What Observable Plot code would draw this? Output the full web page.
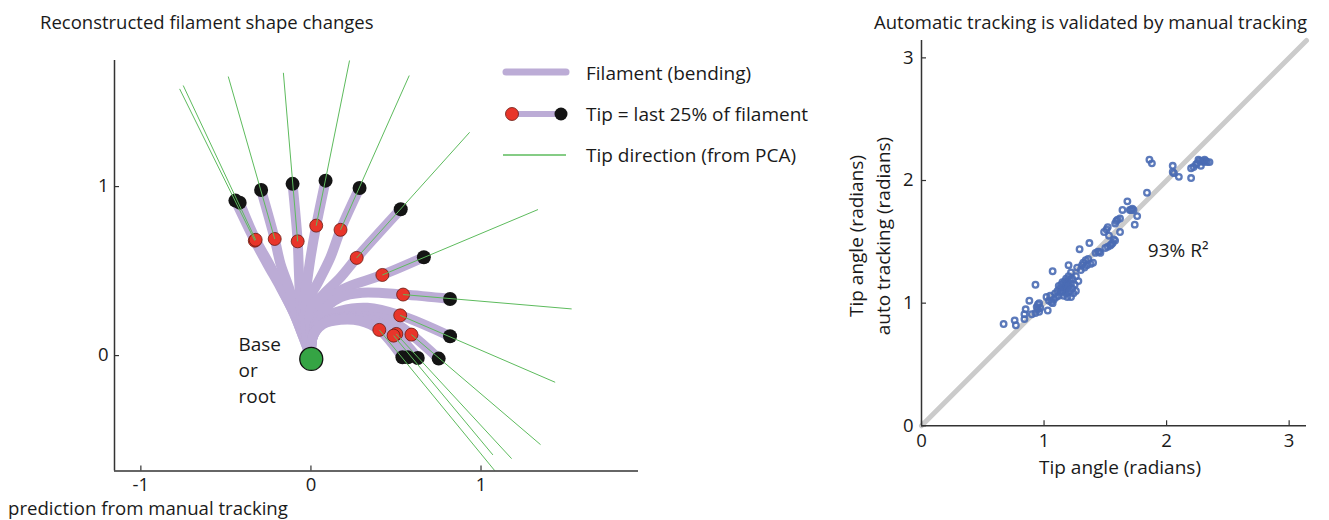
<!DOCTYPE html>
<html><head><meta charset="utf-8">
<script src="https://cdn.jsdelivr.net/npm/d3@7"></script>
<script src="https://cdn.jsdelivr.net/npm/@observablehq/plot@0.6"></script>
<style>
body{margin:0;background:#fff;font-family:"Open Sans",sans-serif;color:#1a1a1a}
#wrap{position:relative;width:1329px;height:520px;overflow:hidden;background:#fff}
.abs{position:absolute;white-space:nowrap;line-height:1.2;transform:translateY(-50%)}
#left,#right{position:absolute;top:0}
#left{left:0px}
#right{left:840px}
#legend{position:absolute;left:0;top:0}
</style></head><body>
<div id="wrap">
  <div id="left"></div>
  <div id="right"></div>
  <svg id="legend" width="1329" height="520" style="pointer-events:none"></svg>
  <div class="abs" style="left:40px;top:22px;font-size:18.5px">Reconstructed filament shape changes</div>
  <div class="abs" style="left:874px;top:22px;font-size:18.5px">Automatic tracking is validated by manual tracking</div>
  <div class="abs" style="left:8px;top:508px;font-size:18.6px;line-height:1">prediction from manual tracking</div>
  <div class="abs" style="left:586px;top:73px;font-size:19px">Filament (bending)</div>
  <div class="abs" style="left:586px;top:114px;font-size:19px">Tip = last 25% of filament</div>
  <div class="abs" style="left:586px;top:155px;font-size:19px">Tip direction (from PCA)</div>
  <div class="abs" style="left:1120px;top:467px;font-size:19px;transform:translate(-50%,-50%)">Tip angle (radians)</div>
  <div class="abs" style="left:856px;top:236px;font-size:19px;transform:translate(-50%,-50%) rotate(-90deg)">Tip angle (radians)</div>
  <div class="abs" style="left:883px;top:236px;font-size:19px;transform:translate(-50%,-50%) rotate(-90deg)">auto tracking (radians)</div>
</div>
<script>
// ---------- Left chart data (filament shapes, data units) ----------
const filamentPaths = [
  [[0,-0.01],[-0.045,0.11],[-0.1,0.25],[-0.179,0.404],[-0.257,0.543],[-0.33,0.68],[-0.444,0.917]],
  [[0,-0.01],[-0.045,0.11],[-0.1,0.25],[-0.175,0.404],[-0.25,0.55],[-0.325,0.685],[-0.419,0.905]],
  [[0,-0.01],[-0.04,0.11],[-0.091,0.266],[-0.13,0.404],[-0.179,0.543],[-0.213,0.69],[-0.293,0.98]],
  [[0,-0.01],[-0.035,0.11],[-0.061,0.3],[-0.071,0.503],[-0.078,0.676],[-0.108,1.016]],
  [[0,-0.01],[-0.03,0.11],[-0.045,0.29],[-0.025,0.42],[-0.002,0.582],[0.031,0.769],[0.086,1.035]],
  [[0,-0.01],[-0.025,0.11],[-0.03,0.3],[0.037,0.424],[0.115,0.582],[0.174,0.744],[0.286,0.992]],
  [[0,-0.01],[0.0,0.11],[0.0,0.28],[0.076,0.365],[0.174,0.463],[0.269,0.578],[0.528,0.866]],
  [[0,-0.01],[0.009,0.108],[0.05,0.26],[0.174,0.385],[0.42,0.477],[0.664,0.582]],
  [[0,-0.01],[0.009,0.108],[0.06,0.25],[0.174,0.345],[0.30,0.372],[0.542,0.361],[0.818,0.335]],
  [[0,-0.01],[0.009,0.108],[0.06,0.215],[0.174,0.265],[0.332,0.283],[0.525,0.238],[0.818,0.114]],
  [[0,-0.01],[0.009,0.108],[0.07,0.2],[0.174,0.225],[0.332,0.232],[0.469,0.207],[0.591,0.124],[0.751,-0.018]],
  [[0,-0.01],[0.009,0.108],[0.07,0.195],[0.174,0.222],[0.312,0.22],[0.42,0.19],[0.502,0.128],[0.628,-0.014]],
  [[0,-0.01],[0.009,0.108],[0.07,0.19],[0.174,0.218],[0.30,0.215],[0.40,0.185],[0.486,0.118],[0.57,-0.01]],
  [[0,-0.01],[0.009,0.108],[0.07,0.185],[0.174,0.212],[0.29,0.205],[0.402,0.152],[0.538,-0.01]]
];
// PCA tip-direction line far ends (one per filament)
const pcaEnds = [
  [-0.772,1.578],[-0.751,1.598],[-0.486,1.651],[-0.162,1.673],[0.227,1.746],[0.578,1.657],
  [0.933,1.321],[1.335,0.864],[1.533,0.276],[1.436,-0.158],[1.35,-0.527],[1.18,-0.61],[1.07,-0.588],[1.08,-0.68]
];
const basePoint = [[0.002,-0.02]];
const baseLabel = [{x:-0.426, y:0.14, text:"Base\nor\nroot"}];
const leftXTicks = [-1, 0, 1];
const leftYTicks = [0, 1];
const leftXDomain = [-1.155, 1.926];
const leftYDomain = [-0.683, 1.746];

// ---------- Right chart data (tip angle, radians) ----------
const manualAngle = [
 0.67,0.76,0.77,0.84,0.84,0.85,0.88,0.90,0.93,0.93,0.94,0.95,0.96,0.96,0.95,0.97,
 1.02,1.03,1.04,1.05,1.06,1.07,1.07,1.08,1.09,1.10,1.11,1.12,1.12,
 1.13,1.14,1.14,1.15,1.15,1.16,1.16,1.17,1.17,1.18,1.18,1.18,1.19,1.19,1.19,1.20,1.20,1.20,1.21,1.21,1.22,1.22,1.22,1.23,1.23,1.24,1.25,1.26,1.27,1.28,1.26,
 1.29,1.30,1.31,1.32,1.33,1.34,1.35,1.36,1.37,1.38,1.40,1.42,1.44,1.45,1.46,
 1.49,1.50,1.51,1.52,1.52,1.53,1.54,1.55,1.56,1.57,1.58,1.58,1.59,1.60,1.62,1.62,1.64,
 1.68,1.70,1.71,1.72,1.73,1.74,1.76,1.84,1.86,1.88,
 2.05,2.05,2.06,2.10,2.20,2.20,2.22,2.24,2.25,2.26,2.28,2.29,2.30,2.32,2.33,2.35,2.27,2.31
];
const autoAngle = [
 0.83,0.86,0.82,0.91,0.87,0.95,1.02,0.91,1.15,0.92,0.97,0.99,0.93,1.00,0.95,0.96,
 1.05,0.94,1.02,1.06,1.01,1.26,1.00,1.03,1.08,1.05,1.10,1.06,1.14,
 1.12,1.09,1.15,1.10,1.17,1.13,1.06,1.18,1.11,1.15,1.08,1.20,1.12,1.17,1.05,1.31,1.22,1.14,1.10,1.19,1.16,1.05,1.25,1.12,1.20,1.08,1.15,1.22,1.29,1.18,1.10,
 1.44,1.27,1.31,1.33,1.29,1.35,1.31,1.36,1.49,1.32,1.33,1.41,1.42,1.42,1.41,
 1.58,1.45,1.60,1.62,1.46,1.55,1.47,1.48,1.49,1.52,1.51,1.65,1.67,1.68,1.58,1.69,1.76,
 1.83,1.76,1.76,1.77,1.76,1.64,1.71,1.90,2.17,2.14,
 2.12,2.07,2.06,2.03,2.02,2.10,2.11,2.13,2.14,2.17,2.12,2.16,2.15,2.16,2.15,2.15,2.16,2.17
];
const identityLine = [[0,0],[Math.PI,Math.PI]];
const rightTicks = [0, 1, 2, 3];
const rightDomain = [0, Math.PI];
const r2Label = [{x:1.847, y:1.43, text:"93% R²"}];

// ---------- Colours ----------
const purple = "#bcacd6", red = "#e8352a", tipBlack = "#141414", green = "#5dbb5d", baseGreen = "#35a444", dotBlue = "#4a6cb4", axisColor = "#333";

// ---------- Build tables ----------
const filamentRows = filamentPaths.flatMap((p, i) => p.map(([x, y]) => ({id: i, x, y})));
const tipStart = filamentPaths.map(p => ({x: p[p.length-2][0], y: p[p.length-2][1]}));
const tipEnd = filamentPaths.map(p => ({x: p[p.length-1][0], y: p[p.length-1][1]}));
const pcaRows = filamentPaths.map((p, i) => ({x1: p[p.length-2][0], y1: p[p.length-2][1], x2: pcaEnds[i][0], y2: pcaEnds[i][1]}));
const scatter = manualAngle.map((m, i) => ({m, a: autoAngle[i]}));

const font = "'Open Sans', sans-serif";
const fmt = d => (d < 0 ? "-" + Math.abs(d) : String(d));

// Left chart
const LW = 660, LH = 520, lml = 114, lmr = 22, lmt = 60, lmb = 49.5;
const leftPlot = Plot.plot({
  width: LW, height: LH,
  marginLeft: lml, marginRight: lmr, marginTop: lmt, marginBottom: lmb,
  style: {fontFamily: font, fontSize: "18px", color: "#1a1a1a", background: "none", overflow: "visible"},
  x: {domain: leftXDomain},
  y: {domain: leftYDomain},
  marks: [
    Plot.line(filamentRows, {x: "x", y: "y", z: "id", curve: "catmull-rom", stroke: purple, strokeWidth: 10, strokeLinecap: "round", strokeLinejoin: "round"}),
    Plot.dot(tipStart, {x: "x", y: "y", r: 6.5, fill: red, stroke: "#6a1a12", strokeWidth: 0.8}),
    Plot.dot(tipEnd, {x: "x", y: "y", r: 7, fill: tipBlack}),
    Plot.link(pcaRows, {x1: "x1", y1: "y1", x2: "x2", y2: "y2", stroke: green, strokeWidth: 1}),
    Plot.dot(basePoint, {x: d => d[0], y: d => d[1], r: 11.5, fill: baseGreen, stroke: "#111", strokeWidth: 1.3}),
    Plot.text(baseLabel, {x: "x", y: "y", text: "text", textAnchor: "start", lineAnchor: "top", lineHeight: 1.38, fontSize: 19, fill: "#1a1a1a"}),
    Plot.ruleY([leftYDomain[0]], {stroke: axisColor, strokeWidth: 1.5}),
    Plot.ruleX([leftXDomain[0]], {stroke: axisColor, strokeWidth: 1.5}),
    Plot.tickX(leftXTicks, {x: d => d, stroke: axisColor, strokeWidth: 1.2, insetTop: LH - lmt - lmb - 5}),
    Plot.tickY(leftYTicks, {y: d => d, stroke: axisColor, strokeWidth: 1.2, insetRight: LW - lml - lmr - 5}),
    Plot.axisX(leftXTicks, {tickSize: 0, tickPadding: 7, tickFormat: fmt, fontSize: 18.5, fill: "#1a1a1a"}),
    Plot.axisY(leftYTicks, {tickSize: 0, tickPadding: 6, tickFormat: fmt, fontSize: 18.5, fill: "#1a1a1a"})
  ]
});
document.getElementById("left").appendChild(leftPlot);

// Right chart
const RW = 489, RH = 520, rml = 81, rmr = 23, rmt = 40, rmb = 94.7;
const rightPlot = Plot.plot({
  width: RW, height: RH,
  marginLeft: rml, marginRight: rmr, marginTop: rmt, marginBottom: rmb,
  style: {fontFamily: font, fontSize: "18px", color: "#1a1a1a", background: "none", overflow: "visible"},
  x: {domain: rightDomain},
  y: {domain: rightDomain},
  marks: [
    Plot.line(identityLine, {x: d => d[0], y: d => d[1], stroke: "#cbcbcb", strokeWidth: 5}),
    Plot.dot(scatter, {x: "m", y: "a", r: 2.8, stroke: dotBlue, strokeWidth: 2.3, fill: "none", strokeOpacity: 0.9}),
    Plot.text(r2Label, {x: "x", y: "y", text: "text", textAnchor: "start", fontSize: 19, fill: "#1a1a1a"}),
    Plot.ruleY([rightDomain[0]], {stroke: axisColor, strokeWidth: 1.5}),
    Plot.ruleX([rightDomain[0]], {stroke: axisColor, strokeWidth: 1.5}),
    Plot.tickX(rightTicks, {x: d => d, stroke: axisColor, strokeWidth: 1.2, insetTop: RH - rmt - rmb - 5}),
    Plot.tickY(rightTicks, {y: d => d, stroke: axisColor, strokeWidth: 1.2, insetRight: RW - rml - rmr - 5}),
    Plot.axisX(rightTicks, {tickSize: 0, tickPadding: 8, tickFormat: fmt, fontSize: 18.5, fill: "#1a1a1a"}),
    Plot.axisY(rightTicks, {tickSize: 0, tickPadding: 8, tickFormat: fmt, fontSize: 18.5, fill: "#1a1a1a"})
  ]
});
document.getElementById("right").appendChild(rightPlot);

// Legend symbols (static key, not data)
const lg = d3.select("#legend");
lg.append("line").attr("x1", 506).attr("x2", 566).attr("y1", 72).attr("y2", 72)
  .attr("stroke", purple).attr("stroke-width", 7).attr("stroke-linecap", "round");
lg.append("line").attr("x1", 512).attr("x2", 561).attr("y1", 114).attr("y2", 114)
  .attr("stroke", purple).attr("stroke-width", 6);
lg.append("circle").attr("cx", 512).attr("cy", 114).attr("r", 6.5).attr("fill", red).attr("stroke", "#6a1a12").attr("stroke-width", 0.8);
lg.append("circle").attr("cx", 561).attr("cy", 114).attr("r", 6.5).attr("fill", tipBlack);
lg.append("line").attr("x1", 503).attr("x2", 566).attr("y1", 155).attr("y2", 155)
  .attr("stroke", green).attr("stroke-width", 1.3);
</script>
</body></html>
